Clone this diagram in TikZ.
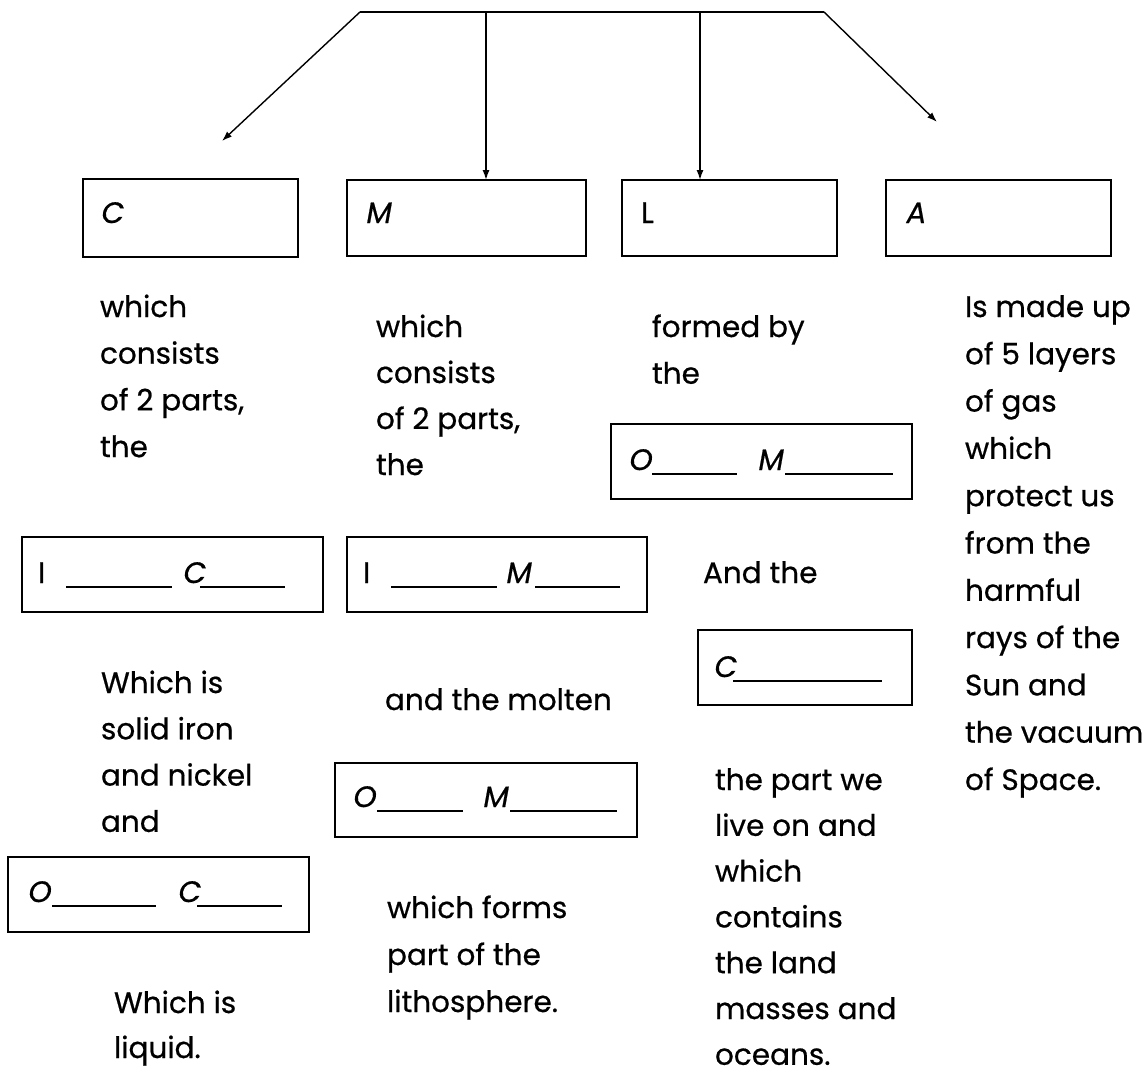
\documentclass[tikz,border=0pt]{standalone}
\usepackage{fontspec}
\setmainfont{Poppins}[FakeBold=0.6]
\newfontfamily\slfont[FakeSlant=0.18,FakeBold=0.6]{Poppins}
\usetikzlibrary{arrows.meta}
\newcommand\stk[2]{\vtop{\baselineskip=#1\lineskip=0pt\lineskiplimit=-100pt\halign{##\hfil\cr#2\crcr}}}
\newcommand\ul[1]{\rule[-5pt]{#1}{1.8pt}}
\newcommand\lt[2]{\makebox[#1][l]{#2}}
\begin{document}
\begin{tikzpicture}[x=1pt,y=-1pt,
  every node/.style={inner sep=0pt,outer sep=0pt,font=\fontsize{29.5}{34}\selectfont},
  txt/.style={anchor=base west},
  box/.style={draw,line width=1.8pt,rectangle,anchor=north west},
  conn/.style={line width=1.4pt,-{Latex[length=10pt,width=7pt]}}]
\useasboundingbox (0,0) rectangle (1148,1070);
% top bracket
\coordinate (tl) at (360,12);
\coordinate (tr) at (824,12);
\coordinate (t1) at (486,12);
\coordinate (t2) at (700,12);
\coordinate (ltip) at (222,141);
\coordinate (rtip) at (937,122);
\draw[line width=1.6pt] (tl) -- (tr);
% boxes row 1
\node[box,minimum width=215pt,minimum height=78pt] (cbox) at (83,179) {};
\node[box,minimum width=239pt,minimum height=76pt] (mbox) at (347,180) {};
\node[box,minimum width=215pt,minimum height=76pt] (lbox) at (622,180) {};
\node[box,minimum width=225pt,minimum height=76pt] (abox) at (886,180) {};
\node[txt] (cl) at (100,223) {\slfont C};
\node[txt] (ml) at (365,223) {\slfont M};
\node[txt] (ll) at (641,223) {L};
\node[txt] (al) at (905,223) {\slfont A};
% connectors
\draw[conn] (tl) -- (ltip);
\draw[conn] (tr) -- (rtip);
\draw[conn] (t1) -- (t1 |- mbox.north);
\draw[conn] (t2) -- (t2 |- lbox.north);
% column texts
\node[txt] (c1a) at (100,317) {\stk{46.7pt}{which\cr consists\cr of 2 parts,\cr the}};
\node[txt] (c2a) at (376,337) {\stk{46pt}{which\cr consists\cr of 2 parts,\cr the}};
\node[txt] (c3a) at (652,337) {\stk{46.7pt}{formed by\cr the}};
\node[txt] (c4a) at (965,317) {\stk{47.3pt}{Is made up\cr of 5 layers\cr of gas\cr which\cr protect us\cr from the\cr harmful\cr rays of the\cr Sun and\cr the vacuum\cr of Space.}};
% second-level boxes
\node[box,minimum width=301pt,minimum height=75pt] (om3box) at (611,424) {};
\node[txt] (om3) at (628,470) {\lt{24pt}{\slfont O}\ul{85pt}\hspace{20pt}\lt{28pt}{\slfont M}\ul{108pt}};
\node[box,minimum width=301pt,minimum height=75pt] (icbox) at (22,537) {};
\node[txt] (ic) at (38,583) {\lt{28pt}{I}\ul{106pt}\hspace{10pt}\lt{18pt}{\slfont C}\ul{85pt}};
\node[box,minimum width=300pt,minimum height=75pt] (imbox) at (347,537) {};
\node[txt] (im) at (363,583) {\lt{28pt}{I}\ul{106pt}\hspace{8pt}\lt{30pt}{\slfont M}\ul{85pt}};
\node[txt] (andthe) at (703,583) {And the};
\node[box,minimum width=214pt,minimum height=75pt] (c3box) at (698,630) {};
\node[txt] (c3) at (713,677) {\lt{20pt}{\slfont C}\ul{149pt}};
% lower texts
\node[txt] (c1b) at (101,693) {\stk{46.3pt}{Which is\cr solid iron\cr and nickel\cr and}};
\node[txt] (c2b) at (385,710) {and the molten};
\node[box,minimum width=302pt,minimum height=74pt] (om2box) at (335,763) {};
\node[txt] (om2) at (352,807) {\lt{25pt}{\slfont O}\ul{86pt}\hspace{19pt}\lt{28pt}{\slfont M}\ul{107pt}};
\node[txt] (c3b) at (715,790) {\stk{45.8pt}{the part we\cr live on and\cr which\cr contains\cr the land\cr masses and\cr oceans.}};
\node[box,minimum width=301pt,minimum height=75pt] (ocbox) at (8,857) {};
\node[txt] (oc) at (27,902) {\lt{25pt}{\slfont O}\ul{104pt}\hspace{21pt}\lt{20pt}{\slfont C}\ul{85pt}};
\node[txt] (c2c) at (387,918) {\stk{47pt}{which forms\cr part of the\cr lithosphere.}};
\node[txt] (c1c) at (114,1013) {\stk{45pt}{Which is\cr liquid.}};
\end{tikzpicture}
\end{document}
